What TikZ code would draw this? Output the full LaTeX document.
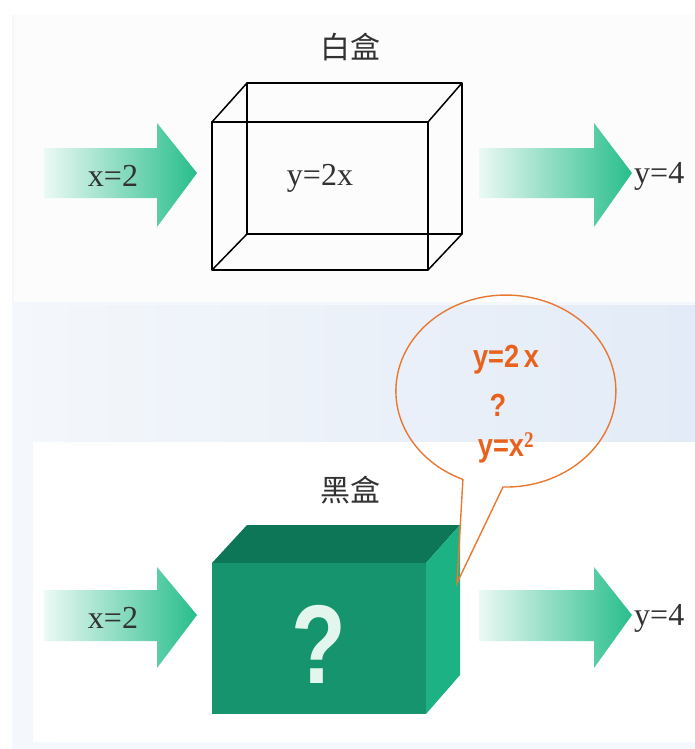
\documentclass[tikz,border=0pt]{standalone}
\usepackage{fontspec}
\setmainfont{Liberation Serif}
\newfontfamily\cjkfont{Noto Sans CJK SC}
\newfontfamily\sansfont{Liberation Sans}
\definecolor{arrowlight}{RGB}{236,249,244}
\definecolor{arrowdark}{RGB}{40,190,140}
\definecolor{boxfront}{RGB}{22,148,110}
\definecolor{boxtop}{RGB}{12,118,86}
\definecolor{boxside}{RGB}{28,178,132}
\definecolor{qmark}{RGB}{226,246,238}
\definecolor{bubble}{RGB}{232,120,50}
\definecolor{bubbletext}{RGB}{232,98,30}
\definecolor{labeltext}{RGB}{50,50,50}
\definecolor{bandblue}{RGB}{226,235,247}
\definecolor{framegray}{RGB}{244,247,251}
\definecolor{toppanel}{RGB}{252,252,253}
\begin{document}
\begin{tikzpicture}[x=1pt,y=-1pt,
  flowarrow/.style={left color=arrowlight,right color=arrowdark,draw=none},
  serlabel/.style={text=labeltext,font=\fontsize{32}{34}\selectfont,inner sep=0pt},
  cjklabel/.style={text=labeltext,font=\cjkfont\fontsize{30}{32}\selectfont,inner sep=0pt},
  bubblelabel/.style={text=bubbletext,font=\sansfont\bfseries\fontsize{32}{34}\selectfont,inner sep=0pt,xscale=0.85},
  wire/.style={draw=black,line width=1.5pt,line join=round}]
\useasboundingbox (0,0) rectangle (695,749);
% backgrounds
\fill[white] (0,0) rectangle (695,749);
\fill[framegray] (12,15) rectangle (695,749);
\fill[toppanel] (14,15) rectangle (695,302);
\shade[left color=framegray,right color=bandblue] (12,305) rectangle (695,441);
\fill[white] (33,442) rectangle (695,742);

% ---------- top: white box ----------
\node[cjklabel] (wtitle) at (350,47) {白盒};
\shade[flowarrow] (44,148) -- (157,148) -- (157,123) -- (197,173) -- (157,227) -- (157,198) -- (44,198) -- cycle;
\node[serlabel,anchor=center] (win) at (113,176) {x=2};
\shade[flowarrow] (479,148) -- (594,148) -- (594,123) -- (632,173) -- (594,227) -- (594,198) -- (479,198) -- cycle;
\node[serlabel,anchor=west] (wout) at (634,176) {y=4};
% wireframe box
\coordinate (fa) at (212,122);
\coordinate (fb) at (428,122);
\coordinate (fc) at (428,270);
\coordinate (fd) at (212,270);
\coordinate (ba) at (247,83);
\coordinate (bb) at (462,83);
\coordinate (bc) at (462,234);
\coordinate (bd) at (247,234);
\draw[wire] (ba) -- (bb) -- (bc) -- (bd) -- cycle;
\draw[wire] (fa) -- (fb) -- (fc) -- (fd) -- cycle;
\draw[wire] (fa) -- (ba) (fb) -- (bb) (fc) -- (bc) (fd) -- (bd);
\node[serlabel] (wfun) at (320,178) {y=2x};

% ---------- bottom: black box ----------
\node[cjklabel] (btitle) at (350,490) {黑盒};
\shade[flowarrow] (44,590) -- (157,590) -- (157,567) -- (197,615) -- (157,668) -- (157,641) -- (44,641) -- cycle;
\node[serlabel] (bin) at (113,618) {x=2};
\shade[flowarrow] (479,590) -- (594,590) -- (594,567) -- (632,615) -- (594,668) -- (594,641) -- (479,641) -- cycle;
\node[serlabel,anchor=west] (bout) at (634,618) {y=4};
% solid box
\coordinate (ga) at (212,563);
\coordinate (gb) at (426,563);
\coordinate (gc) at (426,714);
\coordinate (gd) at (212,714);
\coordinate (gba) at (247,525);
\coordinate (gbb) at (460,525);
\coordinate (gbc) at (460,675);
\fill[boxtop] (ga) -- (gba) -- (gbb) -- (gb) -- cycle;
\fill[boxside] (gb) -- (gbb) -- (gbc) -- (gc) -- cycle;
\fill[boxfront] (ga) rectangle (gc);
\node[text=qmark,font=\sansfont\bfseries\fontsize{112}{114}\selectfont,inner sep=0pt,xscale=0.8] (bq) at (319,644) {?};

% ---------- speech bubble ----------
\coordinate (bubtip) at (457,583);
\draw[draw=bubble,line width=1.4pt,line join=miter]
  (503,487) arc[start angle=91.5,end angle=-247,x radius=110,y radius=96]
  -- (bubtip) -- cycle;
\node[bubblelabel] (b1) at (506,360) {y=2\,x};
\node[bubblelabel] (b2) at (498,405) {?};
\node[bubblelabel] (b3) at (506,448) {y=x$^{\mathbf 2}$};
\end{tikzpicture}
\end{document}
